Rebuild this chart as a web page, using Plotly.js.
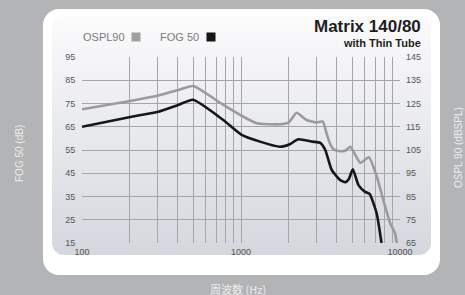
<!DOCTYPE html>
<html>
<head>
<meta charset="utf-8">
<script src="https://cdn.plot.ly/plotly-3.0.1.min.js"></script>
<style>
  html, body { margin: 0; padding: 0; }
  body { width: 465px; height: 295px; background: #b3b4b6; position: relative; overflow: hidden; }
  #panel { position: absolute; left: 43px; top: 9px; width: 397px; height: 266px; background: #ffffff; border-radius: 16px; }
  #inner { position: absolute; left: 52px; top: 16px; width: 379px; height: 239px; border-radius: 12px;
           background: linear-gradient(to bottom, #fbfbfc 0%, #eaebee 45%, #d4d7de 100%); }
  #chart { position: absolute; left: 0; top: 0; width: 465px; height: 295px; }
</style>
</head>
<body>
<div id="panel"></div>
<div id="inner"></div>
<div id="chart"></div>
<script>
// OSPL90 (right axis, dBSPL)
const osplFreq = [100, 205, 302, 403, 500, 774, 1035, 1255, 1500, 1760, 1990, 2240, 2580, 2990, 3270, 3450, 3620, 3820, 4110, 4520, 4870, 5630, 6370, 7130, 7850, 8670, 9300, 9550];
const osplVals = [122.5, 126.2, 128.4, 130.8, 132.5, 124.4, 119.3, 116.5, 116.1, 116.1, 116.8, 121.0, 117.9, 116.9, 117.2, 112.2, 107.9, 105.3, 104.6, 104.7, 106.4, 99.5, 101.9, 93.8, 83.5, 73.5, 69.2, 65.0];
// FOG 50 (left axis, dB)
const fogFreq = [100, 205, 302, 403, 500, 774, 1010, 1317, 1759, 2030, 2290, 2810, 3150, 3390, 3720, 4200, 4520, 4760, 5050, 5480, 6000, 6440, 7130, 7650];
const fogVals = [65.0, 69.3, 71.5, 74.4, 76.6, 67.9, 61.5, 58.6, 56.4, 57.5, 59.6, 58.6, 58.1, 55.0, 46.4, 42.1, 41.1, 42.4, 46.7, 39.9, 37.1, 36.1, 27.8, 15.0];

const xTickVals = [100, 1000, 10000];
const xTickText = ['100', '1000', '10000'];
const xGridVals = [200, 300, 400, 500, 600, 700, 800, 900, 1000, 2000, 3000, 4000, 5000, 6000, 7000, 8000, 9000, 10000];
const leftTicks = [15, 25, 35, 45, 55, 65, 75, 85, 95];
const rightTicks = [65, 75, 85, 95, 105, 115, 125, 135, 145];
const yGridVals = [25, 35, 45, 55, 65, 75, 85];

const legendNames = ['OSPL90', 'FOG 50'];
const titleMain = 'Matrix 140/80';
const titleSub = 'with Thin Tube';
const leftTitle = 'FOG 50 (dB)';
const rightTitle = 'OSPL 90 (dBSPL)';
const bottomTitle = '周波数 (Hz)';

const GRID = '#a6a6a8';
const TICKFONT = {family: 'Liberation Sans, Arial, sans-serif', size: 9, color: '#555555'};
const AXTITLEFONT = {family: 'Liberation Sans, Arial, sans-serif', size: 10, color: '#ececec'};

const traces = [
  {x: osplFreq, y: osplVals, xaxis: 'x', yaxis: 'y2', type: 'scatter', mode: 'lines',
   name: legendNames[0], line: {color: '#9b9b9b', width: 2.6, shape: 'spline', smoothing: 0.5}, hoverinfo: 'x+y'},
  {x: fogFreq, y: fogVals, xaxis: 'x', yaxis: 'y', type: 'scatter', mode: 'lines',
   name: legendNames[1], line: {color: '#161616', width: 2.6, shape: 'spline', smoothing: 0.5}, hoverinfo: 'x+y'}
];

function px2paperX(px) { return (px - 82) / 318; }
function px2paperY(py) { return (243 - py) / 186; }

const layout = {
  width: 465, height: 295,
  margin: {l: 82, r: 65, t: 57, b: 52},
  paper_bgcolor: 'rgba(0,0,0,0)',
  plot_bgcolor: 'rgba(0,0,0,0)',
  showlegend: false,
  xaxis: {type: 'log', range: [2, 4], tickmode: 'array', tickvals: xTickVals, ticktext: xTickText,
          showgrid: false, zeroline: false, showline: false, ticks: 'outside', ticklen: 0, tickcolor: 'rgba(0,0,0,0)',
          tickfont: TICKFONT, fixedrange: true,
          minor: {tickmode: 'array', tickvals: xGridVals, ticks: 'inside', ticklen: 0, tickcolor: 'rgba(0,0,0,0)',
                  showgrid: true, gridcolor: GRID, gridwidth: 1}},
  yaxis: {range: [15, 95], tickmode: 'array', tickvals: leftTicks, showgrid: false, zeroline: false,
          showline: false, ticks: 'outside', ticklen: 0, tickcolor: 'rgba(0,0,0,0)', tickfont: TICKFONT,
          ticklabelstandoff: 4, fixedrange: true,
          minor: {tickmode: 'array', tickvals: yGridVals, ticks: 'inside', ticklen: 0, tickcolor: 'rgba(0,0,0,0)',
                  showgrid: true, gridcolor: GRID, gridwidth: 1}},
  yaxis2: {range: [65, 145], overlaying: 'y', side: 'right', anchor: 'x', tickmode: 'array', tickvals: rightTicks,
           showgrid: false, zeroline: false, showline: false, ticks: '', tickfont: TICKFONT, ticklabelstandoff: 5, fixedrange: true},
  annotations: [
    {text: '<b>' + titleMain + '</b>', xref: 'paper', yref: 'paper', x: px2paperX(423), y: px2paperY(27),
     xanchor: 'right', yanchor: 'middle', showarrow: false,
     font: {family: 'Liberation Sans Narrow, Arial Narrow, sans-serif', size: 17, color: '#1e1e1e'}},
    {text: '<b>' + titleSub + '</b>', xref: 'paper', yref: 'paper', x: px2paperX(423), y: px2paperY(43),
     xanchor: 'right', yanchor: 'middle', showarrow: false,
     font: {family: 'Liberation Sans Narrow, Arial Narrow, sans-serif', size: 11, color: '#1e1e1e'}},
    {text: legendNames[0], xref: 'paper', yref: 'paper', x: px2paperX(81), y: px2paperY(37),
     xanchor: 'left', yanchor: 'middle', showarrow: false,
     font: {family: 'Liberation Sans, Arial, sans-serif', size: 11, color: '#7a7a7a'}},
    {text: ' ', xref: 'paper', yref: 'paper', x: px2paperX(136), y: px2paperY(37),
     xanchor: 'center', yanchor: 'middle', showarrow: false, width: 8, height: 8, borderpad: 0,
     bgcolor: '#a0a0a0', font: {size: 1}},
    {text: legendNames[1], xref: 'paper', yref: 'paper', x: px2paperX(158), y: px2paperY(37),
     xanchor: 'left', yanchor: 'middle', showarrow: false,
     font: {family: 'Liberation Sans, Arial, sans-serif', size: 11, color: '#7a7a7a'}},
    {text: ' ', xref: 'paper', yref: 'paper', x: px2paperX(211), y: px2paperY(37),
     xanchor: 'center', yanchor: 'middle', showarrow: false, width: 8, height: 8, borderpad: 0,
     bgcolor: '#151515', font: {size: 1}},
    {text: leftTitle, xref: 'paper', yref: 'paper', x: px2paperX(19), y: px2paperY(153),
     xanchor: 'center', yanchor: 'middle', showarrow: false, textangle: -90, font: AXTITLEFONT},
    {text: rightTitle, xref: 'paper', yref: 'paper', x: px2paperX(458), y: px2paperY(148),
     xanchor: 'center', yanchor: 'middle', showarrow: false, textangle: -90, font: AXTITLEFONT},
    {text: bottomTitle, xref: 'paper', yref: 'paper', x: px2paperX(238), y: px2paperY(289),
     xanchor: 'center', yanchor: 'middle', showarrow: false,
     font: {family: 'Noto Sans CJK JP, sans-serif', size: 11, color: '#ececec'}}
  ]
};

Plotly.newPlot('chart', traces, layout, {staticPlot: true, displayModeBar: false});
</script>
</body>
</html>
